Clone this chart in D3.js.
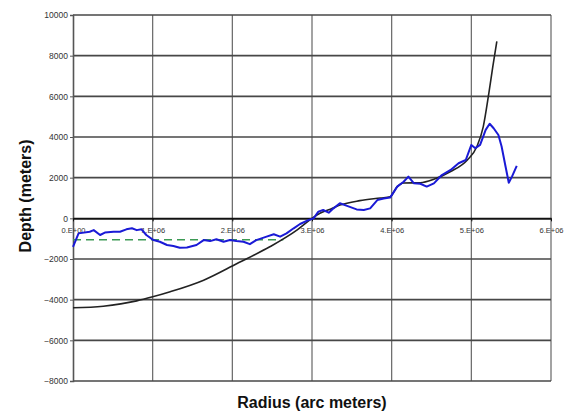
<!DOCTYPE html>
<html>
<head>
<meta charset="utf-8">
<script src="https://cdnjs.cloudflare.com/ajax/libs/d3/7.8.5/d3.min.js"></script>
<style>
  body { margin: 0; background: #fff; }
  svg { display: block; }
</style>
</head>
<body>
<div id="chart"></div>
<script>
// values (x in arc meters, y in meters)
var xTicks = [0, 1e6, 2e6, 3e6, 4e6, 5e6, 6e6];
var xTickLabels = ["0.E+00", "1.E+06", "2.E+06", "3.E+06", "4.E+06", "5.E+06", "6.E+06"];
var yTicks = [-8000, -6000, -4000, -2000, 0, 2000, 4000, 6000, 8000, 10000];

// model curve (black)
var modelX = [0, 0.38e6, 0.8e6, 1.0e6, 1.22e6, 1.64e6, 2.06e6, 2.47e6, 2.81e6, 3.0e6, 3.1e6, 3.23e6, 3.35e6, 3.6e6, 3.86e6, 3.98e6, 4.07e6, 4.15e6, 4.36e6, 4.53e6, 4.74e6, 4.95e6, 5.07e6, 5.15e6, 5.22e6, 5.27e6, 5.32e6];
var modelY = [-4400, -4320, -4060, -3860, -3610, -3040, -2220, -1400, -580, 0, 250, 450, 650, 870, 1000, 1060, 1560, 1740, 1750, 1920, 2300, 2870, 3530, 4510, 6160, 7470, 8700];

// measured profile (blue)
var measX = [0, 0.07e6, 0.21e6, 0.26e6, 0.34e6, 0.4e6, 0.51e6, 0.59e6, 0.67e6, 0.74e6, 0.8e6, 0.86e6, 0.92e6, 1.01e6, 1.09e6, 1.18e6, 1.26e6, 1.34e6, 1.43e6, 1.55e6, 1.64e6, 1.72e6, 1.8e6, 1.89e6, 1.97e6, 2.05e6, 2.14e6, 2.22e6, 2.3e6, 2.43e6, 2.52e6, 2.6e6, 2.68e6, 2.77e6, 2.85e6, 2.96e6, 3.02e6, 3.08e6, 3.14e6, 3.21e6, 3.27e6, 3.35e6, 3.44e6, 3.56e6, 3.65e6, 3.73e6, 3.82e6, 3.9e6, 3.98e6, 4.07e6, 4.15e6, 4.21e6, 4.28e6, 4.36e6, 4.44e6, 4.53e6, 4.63e6, 4.74e6, 4.84e6, 4.93e6, 5.0e6, 5.05e6, 5.11e6, 5.18e6, 5.23e6, 5.28e6, 5.34e6, 5.38e6, 5.43e6, 5.47e6, 5.51e6, 5.57e6];
var measY = [-1400, -740, -660, -580, -820, -700, -660, -660, -540, -490, -580, -540, -820, -1070, -1150, -1310, -1360, -1450, -1430, -1310, -1070, -1120, -1030, -1150, -1070, -1120, -1150, -1270, -1070, -900, -780, -900, -740, -490, -280, -80, 0, 330, 410, 280, 490, 740, 610, 440, 410, 490, 900, 980, 1020, 1560, 1800, 2050, 1720, 1700, 1560, 1720, 2130, 2380, 2710, 2870, 3610, 3450, 3610, 4350, 4650, 4430, 4100, 3530, 2540, 1750, 2050, 2580];

// reference level (green dashed)
var levelX = [0, 2.64e6];
var levelY = [-1050, -1050];

var width = 565, height = 413;
var margin = {left: 73, right: 14, top: 15, bottom: 32};
var font = "Liberation Sans, Arial, sans-serif";

var svg = d3.select("#chart").append("svg")
	.attr("width", width)
	.attr("height", height);

var x = d3.scaleLinear().domain([0, 6e6]).range([margin.left, width - margin.right]);
var y = d3.scaleLinear().domain([-8000, 10000]).range([height - margin.bottom, margin.top]);

// grid
svg.append("g").selectAll("line")
	.data(xTicks.slice(1)).enter().append("line")
	.attr("x1", function(d) { return x(d); }).attr("x2", function(d) { return x(d); })
	.attr("y1", y(10000)).attr("y2", y(-8000))
	.style("stroke", "#666").style("stroke-width", 1.2);

svg.append("g").selectAll("line")
	.data(yTicks.filter(function(d) { return d != 0; })).enter().append("line")
	.attr("x1", x(0)).attr("x2", x(6e6))
	.attr("y1", function(d) { return y(d); }).attr("y2", function(d) { return y(d); })
	.style("stroke", "#474747").style("stroke-width", 1.6);

// y axis
var yAxis = d3.axisLeft(y).tickValues(yTicks).tickSize(3).tickFormat(d3.format("d"));
var gy = svg.append("g").attr("transform", "translate(" + x(0) + ",0)").call(yAxis);
gy.select(".domain").style("stroke", "#555").style("stroke-width", 1.6);
gy.selectAll(".tick line").style("stroke", "#555");
gy.selectAll("text").style("font-family", font)
	.style("font-size", "8.5px").attr("x", -5).style("fill", "#333");

// x axis at zero
var xAxis = d3.axisBottom(x).tickValues(xTicks).tickSizeInner(3).tickSizeOuter(0)
	.tickFormat(function(d, i) { return xTickLabels[i]; });
var gx = svg.append("g").attr("transform", "translate(0," + y(0) + ")").call(xAxis);
gx.select(".domain").style("stroke", "#111").style("stroke-width", 2);
gx.selectAll(".tick line").style("stroke", "#111");
gx.selectAll("text").style("font-family", font)
	.style("font-size", "7.5px").attr("y", 9).style("fill", "#333");

// series
function pts(xs, ys) {
	return xs.map(function(d, i) { return [d, ys[i]]; });
}
var line = d3.line().x(function(d) { return x(d[0]); }).y(function(d) { return y(d[1]); });

svg.append("path")
	.attr("d", line(pts(levelX, levelY)))
	.style("fill", "none").style("stroke", "#3c9a55").style("stroke-width", 1.6)
	.style("stroke-dasharray", "8,5");

svg.append("path")
	.attr("d", line.curve(d3.curveMonotoneX)(pts(modelX, modelY)))
	.style("fill", "none").style("stroke", "#222").style("stroke-width", 1.6);

svg.append("path")
	.attr("d", line.curve(d3.curveLinear)(pts(measX, measY)))
	.style("fill", "none").style("stroke", "#1a1ad6").style("stroke-width", 2)
	.style("stroke-linejoin", "round");

// axis titles
svg.append("text")
	.attr("transform", "translate(31," + y(1100) + ") rotate(-90)")
	.attr("text-anchor", "middle")
	.style("font-family", font)
	.style("font-size", "16px").style("font-weight", "bold").style("fill", "#111")
	.text("Depth (meters)");

svg.append("text")
	.attr("x", x(3e6)).attr("y", 408)
	.attr("text-anchor", "middle")
	.style("font-family", font)
	.style("font-size", "16px").style("font-weight", "bold").style("fill", "#111")
	.text("Radius (arc meters)");
</script>
</body>
</html>
